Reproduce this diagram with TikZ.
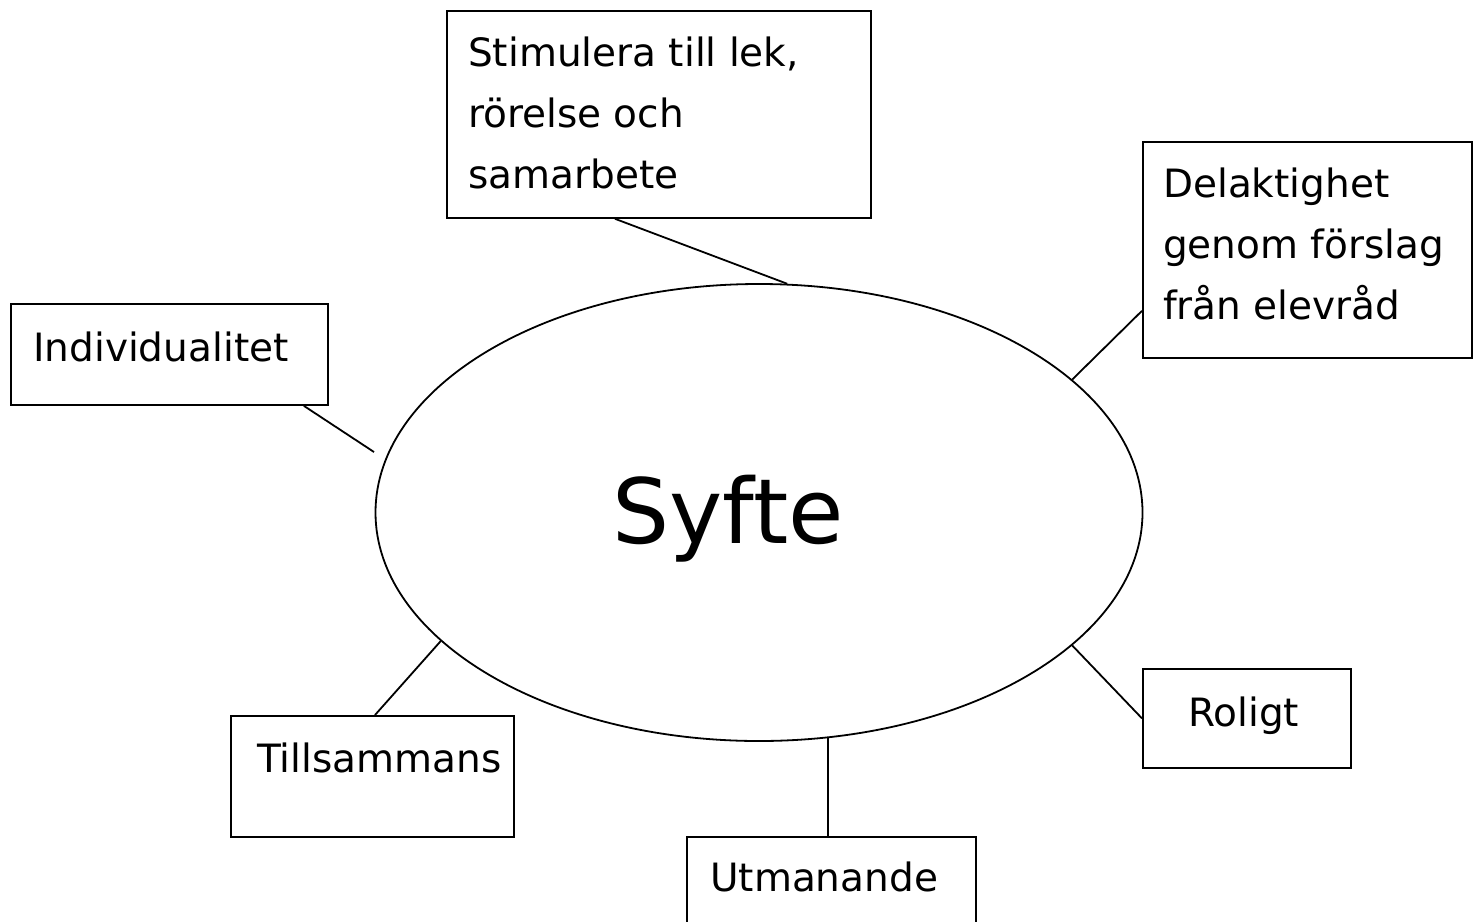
\documentclass[tikz,border=0pt]{standalone}
\usepackage{fontspec}
\setmainfont{DejaVu Sans}
\usetikzlibrary{calc,shapes.geometric}
\begin{document}
\begin{tikzpicture}[x=1pt,y=-1pt,
  box/.style={draw, rectangle, line width=1.8pt, inner sep=0pt, anchor=north west},
  txt/.style={inner sep=0pt, anchor=north west, align=left, font=\fontsize{39}{61}\selectfont},
  link/.style={line width=1.8pt}]
\useasboundingbox (0,0) rectangle (1482,921);
\clip (0,0) rectangle (1482,921);
\node[draw, ellipse, line width=1.8pt, minimum width=767pt, minimum height=457pt, inner sep=0pt] (syfte) at (759,512.5) {};
\node[font=\fontsize{90}{96}\selectfont, anchor=base, inner sep=0pt] (syftet) at (728,543) {Syfte};
% boxes
\node[box, minimum width=424pt, minimum height=207pt] (stim) at (446,10) {};
\node[txt] (stimt) at (468,37) {Stimulera till lek,\\rörelse och\\samarbete};
\node[box, minimum width=329pt, minimum height=216pt] (del) at (1142,141) {};
\node[txt] (delt) at (1163,168) {Delaktighet\\genom förslag\\från elevråd};
\node[box, minimum width=317pt, minimum height=101pt] (ind) at (10,303) {};
\node[txt] (indt) at (33,332) {Individualitet};
\node[box, minimum width=208pt, minimum height=99pt] (rol) at (1142,668) {};
\node[txt] (rolt) at (1188,697) {Roligt};
\node[box, minimum width=283pt, minimum height=121pt] (till) at (230,715) {};
\node[txt] (tillt) at (257,743) {Tillsammans};
\node[box, minimum width=289pt, minimum height=120pt] (utm) at (686,836) {};
\node[txt] (utmt) at (710,862) {Utmanande};
\coordinate (indend) at (374,452);
% connectors
\draw[link] ($(stim.south west)+(169,0)$) -- (syfte.83.5);
\draw[link] ($(del.south west)+(0,-48)$) -- (syfte.23.1);
\draw[link] ($(ind.south east)+(-25,0)$) -- (indend);
\draw[link] ($(till.north west)+(145,0)$) -- (syfte.202.9);
\draw[link] (syfte.287.5) -- (syfte.287.5 |- utm.north);
\draw[link] (rol.west) -- (syfte.337.1);
\end{tikzpicture}
\end{document}
